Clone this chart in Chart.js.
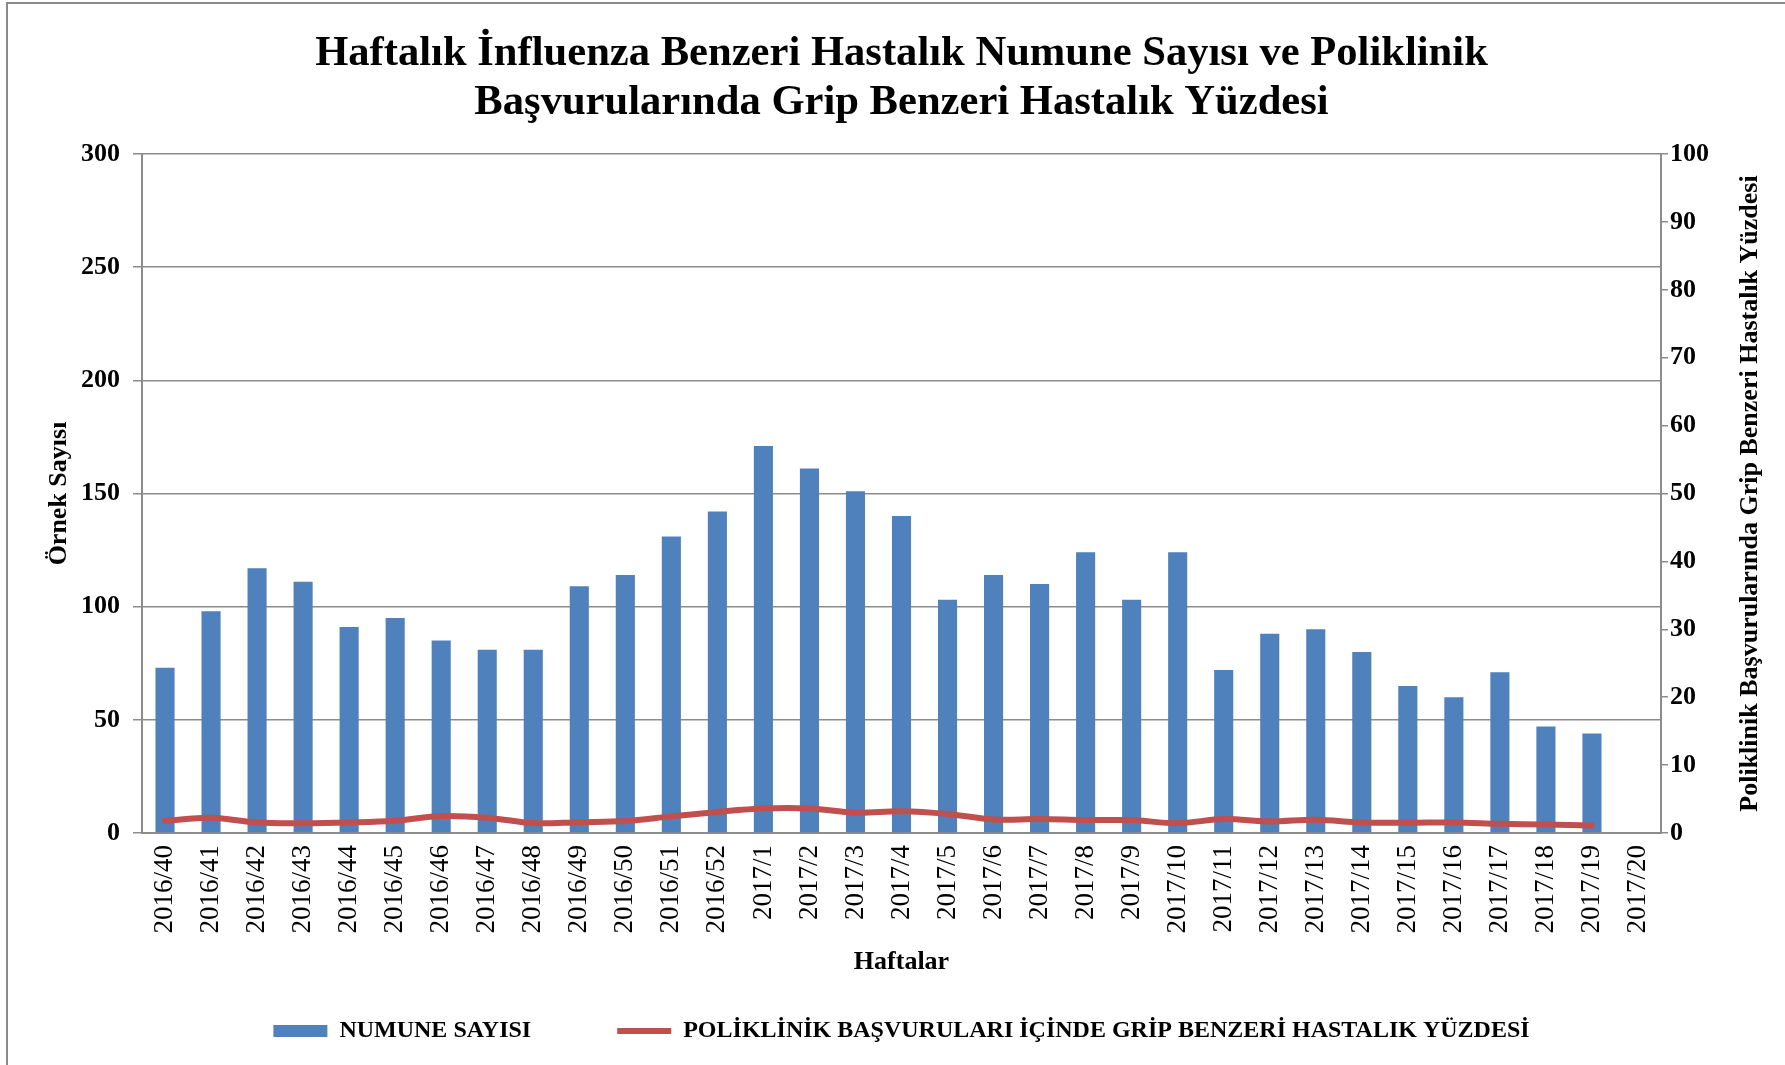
<!DOCTYPE html>
<html>
<head>
<meta charset="utf-8">
<script src="https://cdn.jsdelivr.net/npm/chart.js@4.4.0/dist/chart.umd.min.js"></script>
<style>
html,body{margin:0;padding:0;background:#fff;overflow:hidden}
#wrap{position:relative;width:1785px;height:1065px;overflow:hidden}
#frame{position:absolute;left:6px;top:2px;width:1830px;height:1120px;border-left:2px solid #8a8a8a;border-top:2px solid #8a8a8a;pointer-events:none}
canvas{position:absolute;left:0;top:0}
</style>
</head>
<body>
<div id="wrap"><canvas id="c" width="1785" height="1065"></canvas><div id="frame"></div></div>
<script>
const weeks = ['2016/40','2016/41','2016/42','2016/43','2016/44','2016/45','2016/46','2016/47','2016/48','2016/49','2016/50','2016/51','2016/52',
  '2017/1','2017/2','2017/3','2017/4','2017/5','2017/6','2017/7','2017/8','2017/9','2017/10','2017/11','2017/12','2017/13','2017/14','2017/15','2017/16','2017/17','2017/18','2017/19','2017/20'];
const numuneSayisi = [73,98,117,111,91,95,85,81,81,109,114,131,142,171,161,151,140,103,114,110,124,103,124,72,88,90,80,65,60,71,47,44,null];
const gripYuzdesi = [1.8,2.25,1.55,1.45,1.55,1.8,2.5,2.25,1.45,1.6,1.75,2.45,3.1,3.6,3.6,3.0,3.2,2.8,2.0,2.05,1.9,1.9,1.45,2.05,1.7,1.95,1.55,1.5,1.55,1.35,1.25,1.1,null];
const titleLines = ['Haftalık İnfluenza Benzeri Hastalık Numune Sayısı ve Poliklinik','Başvurularında Grip Benzeri Hastalık Yüzdesi'];
const leftAxisTitle = 'Örnek Sayısı';
const rightAxisTitle = 'Poliklinik Başvurularında Grip Benzeri Hastalık Yüzdesi';
const xAxisTitle = 'Haftalar';
const barLabel = 'NUMUNE SAYISI';
const lineLabel = 'POLİKLİNİK BAŞVURULARI İÇİNDE GRİP BENZERİ HASTALIK YÜZDESİ';

const FONT = '"Liberation Serif", "Times New Roman", serif';
const GRID = '#8c8c8c';

const extraText = {
  id: 'extraText',
  afterDraw(chart) {
    const {ctx, chartArea, scales} = chart;
    ctx.save();
    ctx.fillStyle = '#000';
    ctx.font = 'bold 26px ' + FONT;
    ctx.textAlign = 'center';
    ctx.textBaseline = 'middle';
    ctx.fillText(xAxisTitle, (chartArea.left + chartArea.right) / 2, scales.x.bottom + 29);
    ctx.translate(scales.y1.right - 35, (chartArea.top + chartArea.bottom) / 2);
    ctx.rotate(-Math.PI / 2);
    ctx.fillText(rightAxisTitle, 0, 0);
    ctx.restore();
  }
};

new Chart(document.getElementById('c'), {
  data: {
    labels: weeks,
    datasets: [
      {
        type: 'bar',
        label: barLabel,
        data: numuneSayisi,
        backgroundColor: '#4F81BD',
        borderWidth: 0,
        yAxisID: 'y',
        order: 1,
        barPercentage: 0.415,
        categoryPercentage: 1.0,
        pointStyle: 'rect'
      },
      {
        type: 'line',
        label: lineLabel,
        data: gripYuzdesi,
        borderColor: '#C0504D',
        backgroundColor: '#C0504D',
        borderWidth: 6,
        borderCapStyle: 'round',
        borderJoinStyle: 'round',
        pointRadius: 0,
        pointHoverRadius: 0,
        tension: 0.35,
        yAxisID: 'y1',
        order: 0,
        pointStyle: 'line'
      }
    ]
  },
  options: {
    responsive: false,
    animation: false,
    devicePixelRatio: 1,
    layout: {padding: {left: 0, right: 0, top: 0, bottom: 12}},
    plugins: {
      tooltip: {enabled: false},
      title: {
        display: true,
        fullSize: false,
        text: titleLines,
        color: '#000',
        font: {family: FONT, size: 42.6, weight: 'bold', lineHeight: 1.15},
        padding: {top: 29, bottom: 27}
      },
      legend: {
        position: 'bottom',
        fullSize: false,
        labels: {
          usePointStyle: true,
          pointStyleWidth: 54,
          boxHeight: 12,
          padding: 86,
          color: '#000',
          font: {family: FONT, size: 24, weight: 'bold'},
          sort: (a, b) => a.datasetIndex - b.datasetIndex
        }
      }
    },
    scales: {
      x: {
        type: 'category',
        offset: true,
        grid: {display: false, drawTicks: false},
        border: {display: true, color: GRID, width: 2},
        ticks: {autoSkip: false, maxRotation: 90, minRotation: 90, padding: 12, color: '#000',
          font: {family: FONT, size: 27}},
        afterFit(s) { s.height = 100; }
      },
      y: {
        position: 'left',
        min: 0, max: 300,
        ticks: {stepSize: 50, padding: 13, color: '#000', font: {family: FONT, size: 26, weight: 'bold'}},
        grid: {color: GRID, lineWidth: 1.5, tickLength: 9},
        border: {display: true, color: GRID, width: 2},
        title: {display: true, text: leftAxisTitle, color: '#000',
          font: {family: FONT, size: 26, weight: 'bold'}, padding: {top: 44, bottom: 0}},
        afterFit(s) { s.width = 142; }
      },
      y1: {
        position: 'right',
        min: 0, max: 100,
        ticks: {stepSize: 10, padding: 2, color: '#000', font: {family: FONT, size: 26, weight: 'bold'}},
        grid: {drawOnChartArea: false, color: GRID, lineWidth: 1.5, tickLength: 7},
        border: {display: true, color: GRID, width: 2},
        afterFit(s) { s.width = 124; }
      }
    }
  },
  plugins: [extraText]
});
</script>
</body>
</html>
